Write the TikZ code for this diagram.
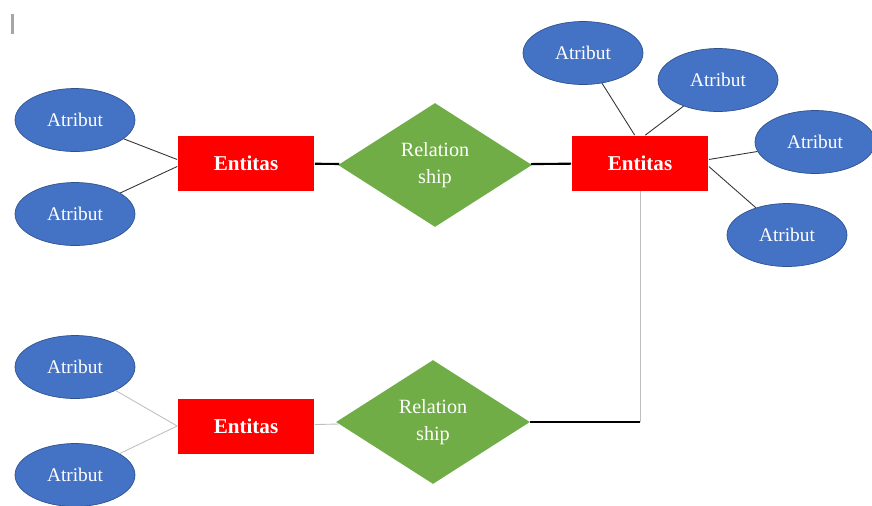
\documentclass[tikz,border=0pt]{standalone}
\usepackage{fontspec}
\setmainfont{Liberation Serif}
\usetikzlibrary{shapes.geometric}

\definecolor{atrblue}{HTML}{4472C4}
\definecolor{atrline}{HTML}{2F528F}
\definecolor{relgreen}{HTML}{70AD47}

\tikzset{
	atribut/.style={ellipse, fill=atrblue, draw=atrline, thin, minimum width=2.4cm, minimum height=1.26cm, inner sep=0pt, text=white, font=\fontsize{11}{13}\selectfont},
	entitas/.style={rectangle, fill=red, minimum width=2.74cm, minimum height=1.1cm, inner sep=0pt, text=white, font=\fontsize{12}{14}\selectfont\bfseries},
	relasi/.style={diamond, fill=relgreen, minimum width=3.88cm, minimum height=2.48cm, inner sep=0pt, text=white, align=center, font=\fontsize{11.5}{15}\selectfont},
	garis/.style={draw=black!80, line width=0.5pt},
	garistipis/.style={draw=black!25, line width=0.5pt},
}

\begin{document}
\begin{tikzpicture}[x=0.02cm, y=-0.02cm]
		\useasboundingbox (0,0) rectangle (872,505);
		\fill [black!35] (11,14) rectangle (14,34);

		% baris atas
		\node [atribut] (a1) at (75,120) {Atribut};
		\node [atribut] (a2) at (75,214) {Atribut};
		\node [entitas] (e1) at (246,163) {Entitas};
		\node [relasi] (r1) at (435,165) {Relation\\ship};
		\node [entitas] (e2) at (640,163) {Entitas};

		\node [atribut] (a3) at (583,53) {Atribut};
		\node [atribut] (a4) at (718,80) {Atribut};
		\node [atribut] (a5) at (815,142) {Atribut};
		\node [atribut] (a6) at (787,235) {Atribut};

		% baris bawah
		\node [atribut] (a7) at (75,367) {Atribut};
		\node [atribut] (a8) at (75,475) {Atribut};
		\node [entitas] (e3) at (246,426) {Entitas};
		\node [relasi] (r2) at (433,422) {Relation\\ship};

		\draw [garis] (a1) -- ([yshift=2pt]e1.west);
		\draw [garis] (a2) -- ([yshift=-2pt]e1.west);
		\draw [black, line width=1.2pt] (e1) -- (r1);
		\draw [black, line width=1.2pt] (r1) -- (e2);

		\draw [garis] (a3) -- ([xshift=-3pt]e2.north);
		\draw [garis] (a4) -- ([xshift=3pt]e2.north);
		\draw [garis] (a5) -- ([yshift=2pt]e2.east);
		\draw [garis] (a6) -- ([yshift=-2pt]e2.east);

		\coordinate (belok) at (640,422);
		\draw [garistipis] (e2.south) -- (belok);
		\draw [black, line width=1.2pt] (belok) -- (r2.east);

		\draw [garistipis] (a7) -- (e3.west);
		\draw [garistipis] (a8) -- (e3.west);
		\draw [garistipis] (e3) -- (r2);
\end{tikzpicture}
\end{document}
